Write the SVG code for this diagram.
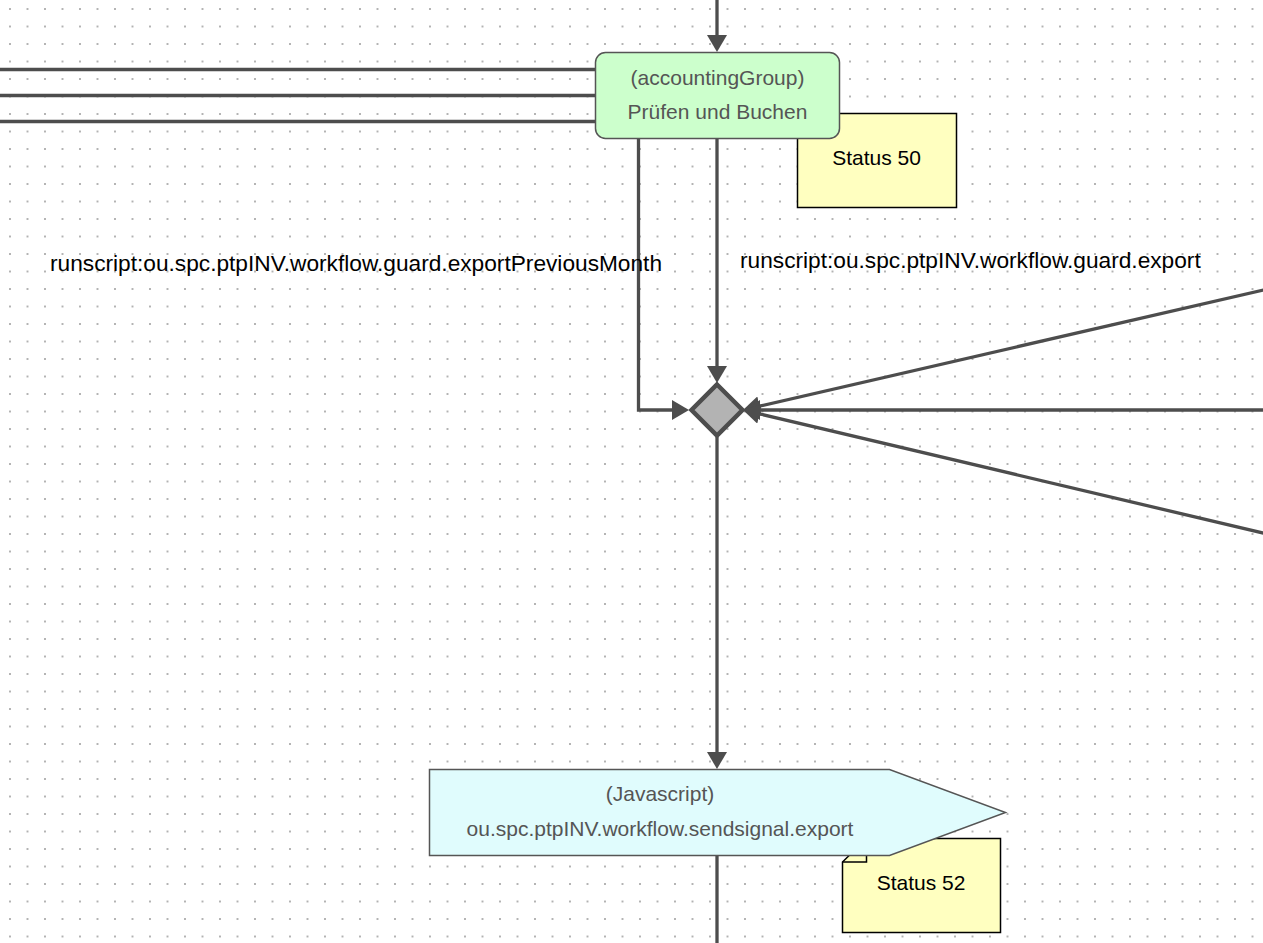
<svg xmlns="http://www.w3.org/2000/svg" width="1263" height="943" viewBox="0 0 1263 943">
<style>
.conn{fill:none;stroke:#4d4d4d;stroke-width:3.3}
.arr{marker-end:url(#arrow)}
.ntext{font-family:"Liberation Sans",Arial,sans-serif;font-size:21px;fill:#555555;text-anchor:middle}
.note{fill:#ffffc0;stroke:#000000;stroke-width:1.5}
.ntxt{font-family:"Liberation Sans",Arial,sans-serif;font-size:21px;fill:#000000;text-anchor:middle}
.lbl{font-family:"Liberation Sans",Arial,sans-serif;font-size:22.7px;fill:#000000}
</style>
<defs>
<pattern id="grid" x="1.25" y="0.25" width="17.5" height="17.5" patternUnits="userSpaceOnUse">
<circle cx="8.75" cy="8.75" r="1" fill="#9a9a9a"/>
</pattern>
<marker id="arrow" viewBox="0 0 17 20" refX="9" refY="10" markerWidth="17" markerHeight="20" markerUnits="userSpaceOnUse" orient="auto">
<path d="M0,0 L17,10 L0,20 z" fill="#4d4d4d"/>
</marker>
</defs>
<rect x="0" y="0" width="1263" height="943" fill="#ffffff"/>
<rect x="0" y="0" width="1263" height="943" fill="url(#grid)"/>

<g id="connectors">
<line class="conn arr" x1="717" y1="-5" x2="717" y2="44"/>
<line class="conn" x1="-5" y1="69.5" x2="595" y2="69.5"/>
<line class="conn" x1="-5" y1="95.5" x2="595" y2="95.5"/>
<line class="conn" x1="-5" y1="121.5" x2="595" y2="121.5"/>
<line class="conn arr" x1="717" y1="139" x2="717" y2="375"/>
<path class="conn arr" d="M638.5,139 V410 H681"/>
<line class="conn arr" x1="1270" y1="288.5" x2="750.8" y2="408.2"/>
<line class="conn arr" x1="1270" y1="410" x2="751" y2="410"/>
<line class="conn arr" x1="1270" y1="534.7" x2="750.8" y2="411.8"/>
<line class="conn arr" x1="717" y1="437" x2="717" y2="761"/>
<line class="conn" x1="717" y1="856" x2="717" y2="950"/>
</g>

<g id="label-prevmonth">
<text class="lbl" x="50" y="271">runscript:ou.spc.ptpINV.workflow.guard.exportPreviousMonth</text>
</g>
<g id="label-export">
<text class="lbl" x="740" y="268">runscript:ou.spc.ptpINV.workflow.guard.export</text>
</g>

<g id="note-status50">
<polygon class="note" points="797.5,137 821,113.5 956.5,113.5 956.5,207.5 797.5,207.5"/>
<text class="ntxt" x="876.5" y="165">Status 50</text>
</g>

<g id="node-pruefen">
<rect x="595.5" y="52.5" width="244" height="86" rx="10" ry="10" fill="#ccffcc" stroke="#555555" stroke-width="1.5"/>
<text class="ntext" x="717.5" y="85">(accountingGroup)</text>
<text class="ntext" x="717.5" y="119">Prüfen und Buchen</text>
</g>

<g id="gateway">
<polygon points="717,384.5 742.5,410 717,435.5 691.5,410" fill="#b3b3b3" stroke="#4d4d4d" stroke-width="4.5" stroke-linejoin="miter"/>
</g>

<g id="note-status52">
<polygon class="note" points="842.5,862 866.5,838.5 1000.5,838.5 1000.5,932.5 842.5,932.5"/>
<polyline points="842.5,862 866.5,862 866.5,838.5" fill="none" stroke="#000000" stroke-width="1.5"/>
<text class="ntxt" x="921" y="890">Status 52</text>
</g>

<g id="node-sendsignal">
<polygon points="429.5,769.5 889.5,769.5 1005.5,812.5 889.5,855.5 429.5,855.5" fill="#e0fcfd" stroke="#555555" stroke-width="1.5"/>
<text class="ntext" x="660" y="801">(Javascript)</text>
<text class="ntext" x="660" y="836">ou.spc.ptpINV.workflow.sendsignal.export</text>
</g>
</svg>
